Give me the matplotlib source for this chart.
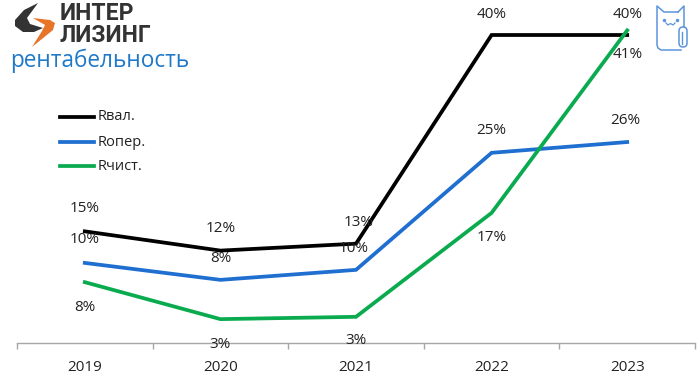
import matplotlib
matplotlib.use("Agg")
import matplotlib.pyplot as plt
from matplotlib.patches import Polygon, FancyBboxPatch
from matplotlib.lines import Line2D

years = ["2019", "2020", "2021", "2022", "2023"]
r_val = [14.5, 12.0, 12.9, 40.0, 40.0]
r_oper = [10.4, 8.2, 9.5, 24.7, 26.1]
r_chist = [7.9, 3.1, 3.4, 16.9, 40.6]
labels_val = ["15%", "12%", "13%", "40%", "40%"]
labels_oper = ["10%", "8%", "10%", "25%", "26%"]
labels_chist = ["8%", "3%", "3%", "17%", "41%"]
names = ["Rвал.", "Rопер.", "Rчист."]
colors = ["#000000", "#1f6fd0", "#0aab4f"]

W, H = 700, 376
plt.rcParams["font.family"] = ["Open Sans", "DejaVu Sans"]
fig = plt.figure(figsize=(W / 100, H / 100), dpi=100)
ax = fig.add_axes([17 / W, 1 - 343 / H, (695 - 17) / W, 343 / H])
ax.patch.set_alpha(0)
x = list(range(len(years)))
ax.set_xlim(-0.5, 4.5)
ax.set_ylim(0, 343 / 7.7)
for vals, c in zip([r_val, r_oper, r_chist], colors):
    ax.plot(x, vals, color=c, lw=2.7, solid_joinstyle="miter", clip_on=False)

offs_val = [(0, 23), (0, 22), (3, 21), (0, 20), (0, 20)]
offs_oper = [(0, 23), (0, 21), (-2, 21), (0, 22), (-2, 22)]
offs_chist = [(0, -25), (0, -25), (0, -24), (0, -25), (0, -24)]
for labs, vals, offs in zip([labels_val, labels_oper, labels_chist],
                            [r_val, r_oper, r_chist],
                            [offs_val, offs_oper, offs_chist]):
    for xi, v, s, o in zip(x, vals, labs, offs):
        ax.annotate(s, (xi, v), xytext=o, textcoords="offset pixels",
                    ha="center", va="center", fontsize=11, color="#222222",
                    annotation_clip=False, zorder=5)

for s in ["top", "left", "right"]:
    ax.spines[s].set_visible(False)
ax.spines["bottom"].set_color("#a6a6a6")
ax.spines["bottom"].set_linewidth(1)
ax.set_yticks([])
ax.set_xticks([i - 0.5 for i in range(6)])
ax.set_xticklabels([])
ax.tick_params(axis="x", length=4.5, color="#a6a6a6", width=1)
ax.set_xticks(x, minor=True)
ax.set_xticklabels(years, minor=True, fontsize=11, color="#222222")
ax.tick_params(axis="x", which="minor", length=0, pad=12)

# overlay in pixel coordinates: legend, logo, title, cat icon
ov = fig.add_axes([0, 0, 1, 1])
ov.set_xlim(0, W)
ov.set_ylim(H, 0)
ov.axis("off")
ov.patch.set_alpha(0)

for yy, n, c in zip([117, 142, 166], names, colors):
    ov.add_line(Line2D([60, 94], [yy, yy], color=c, lw=2.7))
    ov.text(98, yy, n, fontsize=10.5, va="center", ha="left", color="#222222")

ov.add_patch(Polygon([(38, 3), (24, 10), (15, 20), (15, 26), (23, 32), (34, 32), (43, 28),
                      (30, 24), (27, 18)],
                     closed=True, fc="#333333", ec="none"))
ov.add_patch(Polygon([(33, 18), (50, 20), (55, 23), (53, 30), (32, 47), (42, 31), (45, 25)],
                     closed=True, fc="#e8742a", ec="none"))
ov.text(60, 14, "ИНТЕР", fontsize=16.5, fontweight="bold", color="#333333",
        va="center", ha="left", family=["Roboto", "DejaVu Sans"])
ov.text(60, 36, "ЛИЗИНГ", fontsize=16.5, fontweight="bold", color="#333333",
        va="center", ha="left", family=["Roboto", "DejaVu Sans"])
ov.text(10, 61, "рентабельность", fontsize=16.3, color="#1f78c8", va="center",
        ha="left", family=["Open Sans", "DejaVu Sans"])

cat = "#5b94dc"
ov.add_line(Line2D([678, 684, 684], [12, 6, 27], color=cat, lw=1.1))
ov.add_line(Line2D([678, 664, 657, 657, 658, 661, 681], [12, 12, 6, 45, 48, 50, 50], color=cat, lw=1.1))
ov.add_patch(FancyBboxPatch((679, 27), 8, 20, boxstyle="round,pad=0,rounding_size=4",
                            fc="white", ec=cat, lw=1.1))
ov.add_line(Line2D([682, 682], [32, 44], color=cat, lw=1.0))
ov.plot([664, 677], [20, 20], ls="none", marker=".", ms=3, color=cat)
ov.plot([666, 668, 670.5, 673, 675], [23, 25, 23.5, 25, 23], color=cat, lw=0.9)

fig.savefig("out.png", dpi=100, facecolor="white")
